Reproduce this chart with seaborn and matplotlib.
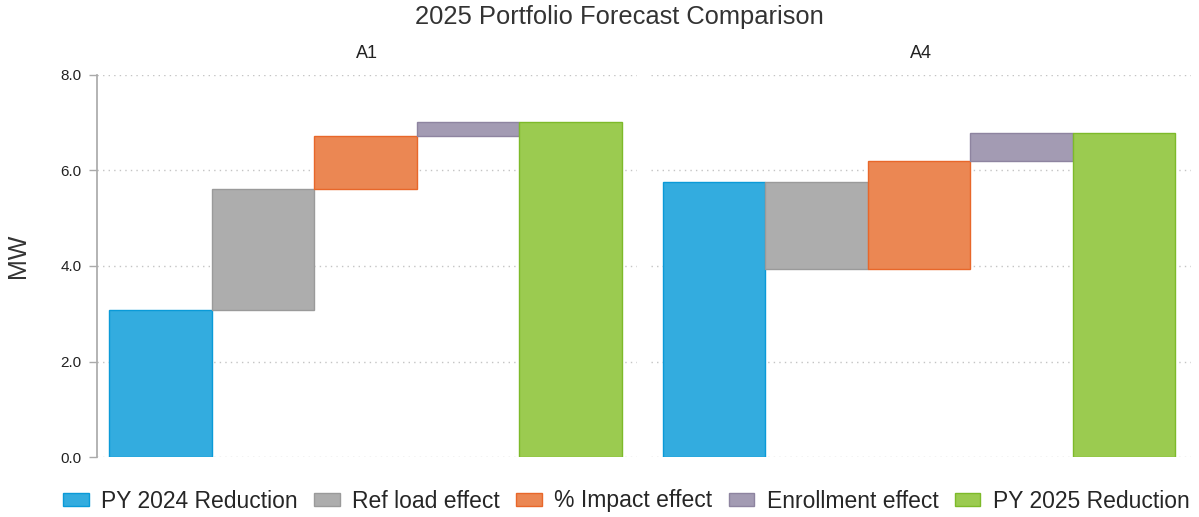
import matplotlib
matplotlib.use("Agg")
import matplotlib.pyplot as plt
import seaborn as sns
import pandas as pd
from matplotlib.patches import Patch

# ---- data ----
facets = ["A1", "A4"]
steps = ["PY 2024 Reduction", "Ref load effect", "% Impact effect", "Enrollment effect", "PY 2025 Reduction"]
a1_changes = [3.08, 2.53, 1.11, 0.30]
a4_changes = [5.75, -1.81, 2.25, 0.60]
y_ticks = [0.0, 2.0, 4.0, 6.0, 8.0]
y_tick_labels = ["0.0", "2.0", "4.0", "6.0", "8.0"]

fill_colors = ["#33ACDF", "#ADADAD", "#EB8753", "#A39BB3", "#9BCB50"]
edge_colors = ["#0A9AD8", "#9A9A9A", "#E8672A", "#8E84A0", "#7DBA2A"]

rows = []
for fac, changes in zip(facets, [a1_changes, a4_changes]):
    running = 0.0
    for i, ch in enumerate(changes):
        if i == 0:
            bottom, top = 0.0, ch
        else:
            bottom, top = running, running + ch
        running += ch
        rows.append(dict(facet=fac, step=steps[i], pos=i,
                         bottom=min(bottom, top), height=abs(top - bottom)))
    rows.append(dict(facet=fac, step=steps[4], pos=4, bottom=0.0, height=running))
df = pd.DataFrame(rows)

sns.set_theme(style="white")
plt.rcParams["font.family"] = ["Liberation Sans", "DejaVu Sans"]

g = sns.FacetGrid(df, col="facet", col_order=facets, sharey=True, height=4, aspect=1)
fig = g.figure
fig.set_size_inches(11.99, 5.17)
fig.set_dpi(100)


def waterfall(data, **kw):
    ax = plt.gca()
    for _, r in data.iterrows():
        i = int(r["pos"])
        ax.bar(r["pos"], r["height"], bottom=r["bottom"], width=1.0,
               color=fill_colors[i], edgecolor=edge_colors[i], linewidth=1.0, zorder=3)


g.map_dataframe(waterfall)

fig.subplots_adjust(left=0.081, right=0.993, top=0.855, bottom=0.116, wspace=0.025)

for ax, fac in zip(g.axes.flat, facets):
    ax.set_xlim(-0.62, 4.65)
    ax.set_ylim(0, 8)
    ax.set_yticks(y_ticks)
    ax.set_xticks([])
    ax.set_xlabel("")
    ax.grid(axis="y", color="#C4C4C4", linestyle=(0, (1, 3)), linewidth=1.0, zorder=0)
    ax.set_title(fac, fontsize=13, color="#222222", pad=12)
    for s in ["top", "right", "bottom"]:
        ax.spines[s].set_visible(False)

ax0 = g.axes.flat[0]
ax0.set_yticklabels(y_tick_labels, fontsize=11, color="#222222")
ax0.spines["left"].set_color("#AAAAAA")
ax0.tick_params(axis="y", which="major", left=True, length=6, width=1, color="#AAAAAA", pad=5)
ax0.set_ylabel("MW", fontsize=18, color="#333333")
ax0.yaxis.set_label_coords(-0.124, 0.526)

ax1 = g.axes.flat[1]
ax1.spines["left"].set_visible(False)
ax1.tick_params(axis="y", left=False, labelleft=False)
ax1.set_ylabel("")

fig.suptitle("2025 Portfolio Forecast Comparison", fontsize=18.4, color="#333333",
             x=619.5 / 1199, y=1 - 17 / 517, va="center")

handles = [Patch(facecolor=fill_colors[i], edgecolor=edge_colors[i], label=steps[i]) for i in range(5)]
fig.legend(handles=handles, loc="center", ncol=5, frameon=False, fontsize=16.5,
           bbox_to_anchor=(626.5 / 1199, 1 - 501 / 517), handlelength=1.1, handleheight=0.5,
           columnspacing=0.72, handletextpad=0.55, borderpad=0.2)

fig.savefig("out.png", dpi=100)
